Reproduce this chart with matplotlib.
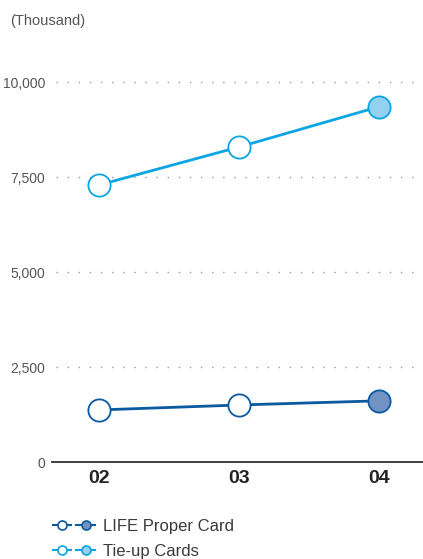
import matplotlib.pyplot as plt
from matplotlib.lines import Line2D
from matplotlib.legend_handler import HandlerTuple

plt.rcParams["font.family"] = ["Liberation Sans", "DejaVu Sans"]

years = ["02", "03", "04"]
life_proper = [1370, 1500, 1610]
tie_up = [7290, 8290, 9350]
y_ticks = [0, 2500, 5000, 7500, 10000]
y_tick_labels = ["0", "2,500", "5,000", "7,500", "10,000"]

life_line = "#0a5aa0"
life_fill = "#7392c4"
tie_line = "#0aa5e3"
tie_fill = "#94d0f0"
text_gray = "#555555"

fig = plt.figure(figsize=(4.23, 5.59), dpi=100)
ax = fig.add_axes([52 / 423, (559 - 462) / 559, 1 - 52 / 423, (462 - 70) / 559])

x = range(len(years))
for values, line_color, fill_color in [
    (tie_up, tie_line, tie_fill),
    (life_proper, life_line, life_fill),
]:
    ax.plot(x, values, color=line_color, lw=2.0, zorder=2)
    ax.scatter(list(x)[:-1], values[:-1], s=16 ** 2, facecolor="white",
               edgecolor=line_color, linewidth=1.3, zorder=3)
    ax.scatter([len(years) - 1], [values[-1]], s=16 ** 2, facecolor=fill_color,
               edgecolor=line_color, linewidth=1.3, zorder=3)

ax.set_xlim(-0.336, 2.314)
ax.set_ylim(0, 10316)

# dotted reference lines above zero
for t in y_ticks[1:]:
    ax.axhline(t, xmin=0.01, xmax=0.99, color="#9a9a9a", lw=1.0,
               linestyle=(0, (1, 7)), zorder=1)

for side in ["left", "right", "top"]:
    ax.spines[side].set_visible(False)
ax.spines["bottom"].set_color("#333333")
ax.spines["bottom"].set_linewidth(1.3)

ax.set_yticks(y_ticks)
ax.set_yticklabels(y_tick_labels)
ax.tick_params(axis="y", length=0, pad=5, labelsize=10, labelcolor=text_gray)
ax.set_xticks(list(x))
ax.set_xticklabels(years)
ax.tick_params(axis="x", length=0, pad=6, labelsize=14, labelcolor="#222222")
for lbl in ax.get_xticklabels():
    lbl.set_fontweight("bold")
    lbl.set_family(["Liberation Sans Narrow", "Liberation Sans", "DejaVu Sans"])

fig.text(10 / 423, 1 - 21 / 559, "(Thousand)", fontsize=10.5, color=text_gray,
         va="center", ha="left")

def pair(line_color, fill_color):
    open_h = Line2D([], [], color=line_color, lw=1.5, marker="o", markersize=6.5,
                    markerfacecolor="white", markeredgecolor=line_color,
                    markeredgewidth=1.2)
    fill_h = Line2D([], [], color=line_color, lw=1.5, marker="o", markersize=6.5,
                    markerfacecolor=fill_color, markeredgecolor=line_color,
                    markeredgewidth=1.2)
    return (open_h, fill_h)

fig.legend(
    [pair(life_line, life_fill), pair(tie_line, tie_fill)],
    ["LIFE Proper Card", "Tie-up Cards"],
    handler_map={tuple: HandlerTuple(ndivide=None, pad=0.3)},
    loc="upper left", bbox_to_anchor=(38 / 423, 1 - 504 / 559),
    frameon=False, fontsize=12, handlelength=2.5, handletextpad=0.5,
    labelspacing=0.6, labelcolor="#3a3a3a",
)

fig.savefig("out.png", dpi=100)
